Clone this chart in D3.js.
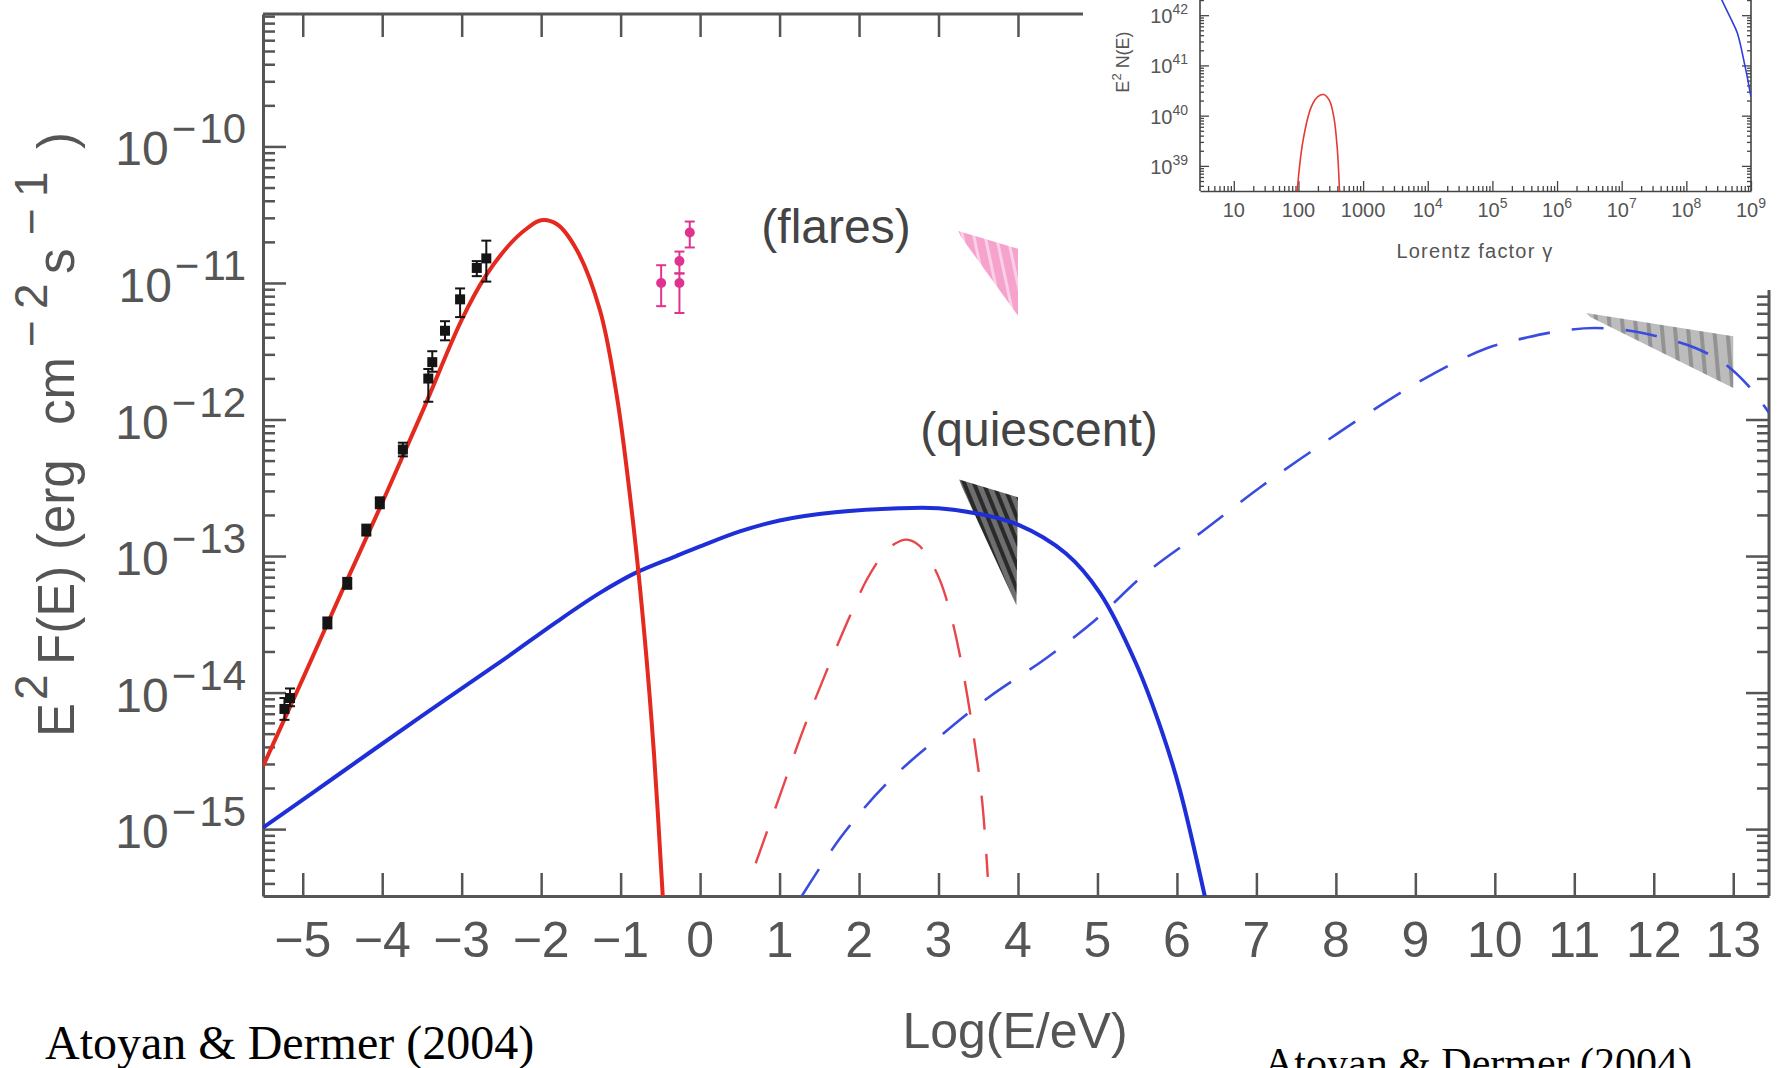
<!DOCTYPE html>
<html>
<head>
<meta charset="utf-8">
<script src="https://cdn.jsdelivr.net/npm/d3@7"></script>
<style>
  html, body { margin: 0; padding: 0; background: #fff; }
  svg { display: block; }
</style>
</head>
<body>
<svg id="chart" width="1779" height="1068"></svg>
<script>
// ---------- data (x: log10(E/eV), y: log10 of E^2 F(E) in erg cm^-2 s^-1) ----------
const xTickValues = d3.range(-5, 14);          // -5 ... 13
const yTickExponents = [-15, -14, -13, -12, -11, -10];

// red solid: synchrotron component
const leptonSync = [
  [-5.5, -14.54], [-5.0, -13.90], [-4.5, -13.25], [-4.0, -12.61], [-3.5, -11.95],
  [-3.0, -11.27], [-2.7, -10.95], [-2.4, -10.72], [-2.2, -10.61], [-2.0, -10.54],
  [-1.8, -10.57], [-1.55, -10.76], [-1.26, -11.20], [-1.05, -11.82], [-0.85, -12.72],
  [-0.7, -13.58], [-0.58, -14.45], [-0.47, -15.49]
];
// red dashed: Compton component
const leptonCompton = [
  [0.70, -15.25], [1.0, -14.76], [1.3, -14.27], [1.6, -13.83], [1.9, -13.42],
  [2.1, -13.17], [2.3, -12.99], [2.45, -12.91], [2.6, -12.88], [2.75, -12.92],
  [2.9, -13.04], [3.02, -13.18], [3.15, -13.42], [3.3, -13.82], [3.45, -14.35],
  [3.55, -14.80], [3.62, -15.35]
];
// blue solid: secondary synchrotron component
const hadronSync = [
  [-5.5, -14.99], [-4.5, -14.58], [-3.5, -14.17], [-2.5, -13.77], [-1.8, -13.48],
  [-1.26, -13.27], [-0.8, -13.12], [-0.3, -13.00], [0.0, -12.93], [0.5, -12.82],
  [1.0, -12.74], [1.7, -12.68], [2.5, -12.65], [3.0, -12.65], [3.5, -12.69],
  [4.0, -12.77], [4.6, -12.98], [5.03, -13.27], [5.48, -13.78], [5.82, -14.30],
  [6.04, -14.72], [6.35, -15.49]
];
// blue dashed: pion-decay gamma rays
const hadronGamma = [
  [1.28, -15.49], [1.77, -15.06], [2.34, -14.67], [3.0, -14.33], [3.62, -14.04],
  [4.35, -13.75], [4.97, -13.47], [5.6, -13.13], [6.32, -12.82], [7.04, -12.50],
  [7.75, -12.21], [8.47, -11.93], [9.18, -11.68], [9.89, -11.48], [10.4, -11.40],
  [10.84, -11.35], [11.26, -11.33], [11.7, -11.35], [12.1, -11.40], [12.54, -11.48],
  [12.91, -11.60], [13.2, -11.76], [13.45, -11.95]
];

// measured points: [logE, logF, lower, upper]
const radioPoints = [
  [-5.23, -14.12, -14.20, -14.04], [-5.16, -14.04, -14.10, -13.97],
  [-4.69, -13.49, -13.53, -13.45], [-4.44, -13.20, -13.24, -13.16],
  [-4.20, -12.81, -12.85, -12.77], [-4.03, -12.61, -12.65, -12.57],
  [-3.74, -12.22, -12.27, -12.17], [-3.42, -11.70, -11.87, -11.63],
  [-3.37, -11.58, -11.65, -11.50], [-3.21, -11.35, -11.42, -11.28],
  [-3.02, -11.12, -11.25, -11.04], [-2.81, -10.89, -10.95, -10.84],
  [-2.69, -10.82, -10.99, -10.69]
];
const flarePoints = [
  [-0.49, -11.00, -11.17, -10.87], [-0.26, -10.84, -10.93, -10.77],
  [-0.26, -11.00, -11.22, -10.93], [-0.13, -10.63, -10.74, -10.55]
];

// spectral bow-ties: polygon vertices [logE, logF]
const flareBowtie = [[3.25, -10.62], [4.0, -10.75], [4.0, -11.24], [3.28, -10.66]];
const quiescentBowtie = [[3.26, -12.44], [4.0, -12.57], [3.98, -13.36], [3.30, -12.50]];
const tevBowtie = [[11.15, -11.22], [13.0, -11.39], [13.0, -11.77], [11.2, -11.25]];

// inset: particle spectra, [log10(gamma), log10(E^2 N(E))]
const insetXExponents = [1, 2, 3, 4, 5, 6, 7, 8, 9];
const insetYExponents = [39, 40, 41, 42];
const insetElectrons = [
  [1.98, 38.5], [2.07, 39.5], [2.2, 40.18], [2.3, 40.38], [2.39, 40.42],
  [2.48, 40.30], [2.55, 39.95], [2.6, 39.35], [2.635, 38.5]
];
const insetProtons = [
  [8.35, 42.9], [8.55, 42.3], [8.7, 41.9], [8.79, 41.64], [8.91, 40.97],
  [8.96, 40.65], [9.0, 40.37]
];

// ---------- layout ----------
const svg = d3.select("#chart");
const plot = { left: 263, right: 1769, top: 14, bottom: 896 };
const inset = { x0: 1083, y0: 0, x1: 1779, y1: 290, left: 1200, right: 1751, bottom: 191 };
const axisColor = "#555";
const labelColor = "#555";
const sans = "'Liberation Sans', Arial, Helvetica, sans-serif";
const pow10 = e => Math.pow(10, e);

const x = d3.scaleLinear().domain([-5.5, 13.45]).range([plot.left, plot.right]);
const y = d3.scaleLog().domain([pow10(-15.49), pow10(-9.03)]).range([plot.bottom, plot.top]);

const defs = svg.append("defs");
defs.append("clipPath").attr("id", "plotClip")
  .append("rect").attr("x", plot.left).attr("y", plot.top)
  .attr("width", plot.right - plot.left).attr("height", plot.bottom - plot.top);

function stripes(id, bg, fg, angle, gap, w) {
  const p = defs.append("pattern").attr("id", id).attr("patternUnits", "userSpaceOnUse")
    .attr("width", gap).attr("height", gap).attr("patternTransform", `rotate(${angle})`);
  p.append("rect").attr("width", gap).attr("height", gap).attr("fill", bg);
  p.append("rect").attr("width", w).attr("height", gap).attr("fill", fg);
}
stripes("hatchPink", "#f5a2cd", "#fbcfe5", -12, 11, 3);
stripes("hatchDark", "#6e6e6e", "#2a2a2a", -22, 9, 4);
stripes("hatchGray", "#bcbcbc", "#939393", -5, 13, 4);

// ---------- main axes ----------
const minorLog = [];
for (let e = -16; e <= -9; e++) for (let m = 2; m <= 9; m++) {
  const v = m * pow10(e);
  if (v > y.domain()[0] && v < y.domain()[1]) minorLog.push(v);
}
const majorLog = yTickExponents.map(pow10);

function styleAxis(g, width) {
  g.selectAll("path.domain").attr("stroke", axisColor).attr("stroke-width", width || 3);
  g.selectAll(".tick line").attr("stroke", axisColor).attr("stroke-width", 2.5);
  g.selectAll(".tick text").remove();
}

// bottom
svg.append("g").attr("transform", `translate(0,${plot.bottom})`)
  .call(d3.axisBottom(x).tickValues(xTickValues).tickSizeInner(-23).tickSizeOuter(0).tickFormat(""))
  .call(styleAxis);
// top (visible up to the inset)
svg.append("g").attr("transform", `translate(0,${plot.top})`)
  .call(d3.axisTop(x).tickValues(xTickValues.filter(v => x(v) < inset.x0 - 5))
    .tickSizeInner(-23).tickSizeOuter(0).tickFormat(""))
  .call(g => g.select("path.domain").remove())
  .call(styleAxis);
svg.append("line").attr("x1", plot.left).attr("x2", inset.x0).attr("y1", plot.top).attr("y2", plot.top)
  .attr("stroke", axisColor).attr("stroke-width", 3);
// left
svg.append("g").attr("transform", `translate(${plot.left},0)`)
  .call(d3.axisLeft(y).tickValues(majorLog).tickSizeInner(-23).tickSizeOuter(0).tickFormat(""))
  .call(styleAxis);
svg.append("g").attr("transform", `translate(${plot.left},0)`)
  .call(d3.axisLeft(y).tickValues(minorLog).tickSizeInner(-12).tickSizeOuter(0).tickFormat(""))
  .call(g => g.select("path.domain").remove())
  .call(styleAxis);
// right (below the inset)
svg.append("g").attr("transform", `translate(${plot.right},0)`)
  .call(d3.axisRight(y).tickValues(majorLog.filter(v => y(v) > inset.y1)).tickSizeInner(-23).tickSizeOuter(0).tickFormat(""))
  .call(g => g.select("path.domain").remove())
  .call(styleAxis);
svg.append("g").attr("transform", `translate(${plot.right},0)`)
  .call(d3.axisRight(y).tickValues(minorLog.filter(v => y(v) > inset.y1)).tickSizeInner(-12).tickSizeOuter(0).tickFormat(""))
  .call(g => g.select("path.domain").remove())
  .call(styleAxis);
svg.append("line").attr("x1", plot.right).attr("x2", plot.right).attr("y1", inset.y1).attr("y2", plot.bottom)
  .attr("stroke", axisColor).attr("stroke-width", 3);

// tick labels
const fmtMinus = v => (v < 0 ? "\u2212" + (-v) : String(v));
svg.append("g").selectAll("text").data(xTickValues).join("text")
  .attr("x", d => x(d)).attr("y", 957).attr("text-anchor", "middle")
  .attr("font-family", sans).attr("font-size", 50).attr("fill", labelColor)
  .text(d => fmtMinus(d));

svg.append("g").selectAll("text").data(yTickExponents).join("text")
  .attr("x", 246).attr("y", d => y(pow10(d)) + 19).attr("text-anchor", "end")
  .attr("font-family", sans).attr("font-size", 48).attr("fill", labelColor)
  .each(function (d) {
    const t = d3.select(this);
    t.append("tspan").text("10");
    t.append("tspan").attr("dx", 3).attr("dy", -22).attr("font-size", 42).text("\u2212");
    t.append("tspan").attr("dx", 3).attr("font-size", 42).text(String(-d));
  });

// axis titles
svg.append("text").attr("x", 1015).attr("y", 1048).attr("text-anchor", "middle")
  .attr("font-family", sans).attr("font-size", 50).attr("fill", labelColor).text("Log(E/eV)");

// rotated y title, pieces placed along the text direction
const yTitle = svg.append("text").attr("transform", "translate(74,737) rotate(-90)")
  .attr("font-family", sans).attr("font-size", 51).attr("fill", labelColor);
[
  { t: "E", x: 0 }, { t: "2", x: 37, sup: true }, { t: "F(E)", x: 72 }, { t: "(erg", x: 187 },
  { t: "cm", x: 312 }, { t: "\u2212", x: 390, sup: true }, { t: "2", x: 428, sup: true },
  { t: "s", x: 463 }, { t: "\u2212", x: 502, sup: true }, { t: "1", x: 540, sup: true },
  { t: ")", x: 588 }
].forEach(s => {
  yTitle.append("tspan").attr("x", s.x).attr("y", s.sup ? -27 : 0)
    .attr("font-size", s.sup ? 46 : 51).text(s.t);
});

// ---------- marks ----------
const plotArea = svg.append("g").attr("clip-path", "url(#plotClip)");
const poly = pts => "M" + pts.map(d => `${x(d[0])},${y(pow10(d[1]))}`).join("L") + "Z";

plotArea.append("path").attr("d", poly(flareBowtie)).attr("fill", "url(#hatchPink)");
plotArea.append("path").attr("d", poly(quiescentBowtie)).attr("fill", "url(#hatchDark)");
plotArea.append("path").attr("d", poly(tevBowtie)).attr("fill", "url(#hatchGray)");

const line = d3.line().x(d => x(d[0])).y(d => y(pow10(d[1]))).curve(d3.curveCatmullRom.alpha(0.5));

plotArea.append("path").attr("d", line(hadronGamma)).attr("fill", "none")
  .attr("stroke", "#3a4be0").attr("stroke-width", 2.6).attr("stroke-dasharray", "32,22");
plotArea.append("path").attr("d", line(leptonCompton)).attr("fill", "none")
  .attr("stroke", "#e8464a").attr("stroke-width", 2.4).attr("stroke-dasharray", "34,24");
plotArea.append("path").attr("d", line(hadronSync)).attr("fill", "none")
  .attr("stroke", "#1f2fd8").attr("stroke-width", 4);
plotArea.append("path").attr("d", line(leptonSync)).attr("fill", "none")
  .attr("stroke", "#e4291f").attr("stroke-width", 4);

function errorPoints(data, color, shape) {
  const g = plotArea.append("g");
  data.forEach(d => {
    const cx = x(d[0]);
    g.append("line").attr("x1", cx).attr("x2", cx)
      .attr("y1", y(pow10(d[2]))).attr("y2", y(pow10(d[3])))
      .attr("stroke", color).attr("stroke-width", 2);
    [d[2], d[3]].forEach(v => g.append("line")
      .attr("x1", cx - 5).attr("x2", cx + 5).attr("y1", y(pow10(v))).attr("y2", y(pow10(v)))
      .attr("stroke", color).attr("stroke-width", 2));
    if (shape === "square") {
      g.append("rect").attr("x", cx - 5).attr("y", y(pow10(d[1])) - 5)
        .attr("width", 10).attr("height", 10).attr("fill", color);
    } else {
      g.append("circle").attr("cx", cx).attr("cy", y(pow10(d[1]))).attr("r", 5).attr("fill", color);
    }
  });
}
errorPoints(radioPoints, "#141414", "square");
errorPoints(flarePoints, "#e0338f", "circle");

// annotations
svg.append("text").attr("x", 836).attr("y", 243).attr("text-anchor", "middle")
  .attr("font-family", sans).attr("font-size", 48).attr("fill", "#444").text("(flares)");
svg.append("text").attr("x", 1039).attr("y", 446).attr("text-anchor", "middle")
  .attr("font-family", sans).attr("font-size", 48).attr("fill", "#444").text("(quiescent)");

// ---------- inset ----------
svg.append("rect").attr("x", inset.x0).attr("y", inset.y0)
  .attr("width", inset.x1 - inset.x0).attr("height", inset.y1 - inset.y0).attr("fill", "#fff");

const gx = d3.scaleLog().domain([3, 1e9]).range([inset.left, inset.right]);
const gy = d3.scaleLog().domain([pow10(38.5), pow10(42.8)]).range([inset.bottom, -25]);
const insetColor = "#444";

defs.append("clipPath").attr("id", "insetClip")
  .append("rect").attr("x", inset.left).attr("y", 0)
  .attr("width", inset.right - inset.left).attr("height", inset.bottom);

const gxMinor = [];
for (let e = 0; e <= 8; e++) for (let m = 2; m <= 9; m++) {
  const v = m * pow10(e);
  if (v > 3 && v < 1e9) gxMinor.push(v);
}
const gyMinor = [];
for (let e = 38; e <= 42; e++) for (let m = 2; m <= 9; m++) {
  const v = m * pow10(e);
  if (v > pow10(38.5) && v < pow10(42.4)) gyMinor.push(v);
}

function styleInset(g) {
  g.selectAll("path.domain").attr("stroke", insetColor).attr("stroke-width", 1.6);
  g.selectAll(".tick line").attr("stroke", insetColor).attr("stroke-width", 1.3);
  g.selectAll(".tick text").remove();
}
svg.append("g").attr("transform", `translate(0,${inset.bottom})`)
  .call(d3.axisBottom(gx).tickValues(insetXExponents.map(pow10)).tickSizeInner(-10).tickSizeOuter(0).tickFormat(""))
  .call(styleInset);
svg.append("g").attr("transform", `translate(0,${inset.bottom})`)
  .call(d3.axisBottom(gx).tickValues(gxMinor).tickSizeInner(-5).tickSizeOuter(0).tickFormat(""))
  .call(g => g.select("path.domain").remove()).call(styleInset);
[[inset.left, d3.axisLeft], [inset.right, d3.axisRight]].forEach(([px, ax]) => {
  svg.append("g").attr("transform", `translate(${px},0)`)
    .call(ax(gy).tickValues(insetYExponents.map(pow10)).tickSizeInner(-9).tickSizeOuter(0).tickFormat(""))
    .call(g => g.select("path.domain").remove()).call(styleInset);
  svg.append("g").attr("transform", `translate(${px},0)`)
    .call(ax(gy).tickValues(gyMinor).tickSizeInner(-4).tickSizeOuter(0).tickFormat(""))
    .call(g => g.select("path.domain").remove()).call(styleInset);
  svg.append("line").attr("x1", px).attr("x2", px).attr("y1", 0).attr("y2", inset.bottom)
    .attr("stroke", insetColor).attr("stroke-width", 1.6);
});

const insetArea = svg.append("g").attr("clip-path", "url(#insetClip)");
const gline = d3.line().x(d => gx(pow10(d[0]))).y(d => gy(pow10(d[1]))).curve(d3.curveCatmullRom.alpha(0.5));
insetArea.append("path").attr("d", gline(insetElectrons)).attr("fill", "none")
  .attr("stroke", "#e53a34").attr("stroke-width", 1.6);
insetArea.append("path").attr("d", gline(insetProtons)).attr("fill", "none")
  .attr("stroke", "#2f3fd6").attr("stroke-width", 1.6);

svg.append("g").selectAll("text").data(insetXExponents).join("text")
  .attr("x", d => gx(pow10(d))).attr("y", 217).attr("text-anchor", "middle")
  .attr("font-family", sans).attr("font-size", 20).attr("fill", "#555")
  .each(function (d) {
    const t = d3.select(this);
    if (d <= 3) { t.text(String(pow10(d))); return; }
    t.append("tspan").text("10");
    t.append("tspan").attr("dy", -9).attr("font-size", 14).text(d);
  });
svg.append("g").selectAll("text").data(insetYExponents).join("text")
  .attr("x", 1188).attr("y", d => gy(pow10(d)) + 8).attr("text-anchor", "end")
  .attr("font-family", sans).attr("font-size", 20).attr("fill", "#555")
  .each(function (d) {
    const t = d3.select(this);
    t.append("tspan").text("10");
    t.append("tspan").attr("dy", -9).attr("font-size", 14).text(d);
  });
const nTitle = svg.append("text").attr("transform", "translate(1129,62) rotate(-90)")
  .attr("text-anchor", "middle").attr("font-family", sans).attr("font-size", 18).attr("fill", "#555");
nTitle.append("tspan").text("E");
nTitle.append("tspan").attr("dy", -8).attr("font-size", 13).text("2");
nTitle.append("tspan").attr("dy", 8).text(" N(E)");
svg.append("text").attr("x", 1475).attr("y", 258).attr("text-anchor", "middle")
  .attr("font-family", sans).attr("font-size", 20).attr("letter-spacing", 1.2)
  .attr("fill", "#555").text("Lorentz factor \u03b3");

// ---------- captions ----------
const serif = "'Liberation Serif', 'Times New Roman', serif";
svg.append("text").attr("x", 45).attr("y", 1059).attr("font-family", serif)
  .attr("font-size", 48).attr("fill", "#000").text("Atoyan & Dermer (2004)");
svg.append("text").attr("x", 1264).attr("y", 1077).attr("font-family", serif)
  .attr("font-size", 42).attr("fill", "#000").text("Atoyan & Dermer (2004)");
</script>
</body>
</html>
